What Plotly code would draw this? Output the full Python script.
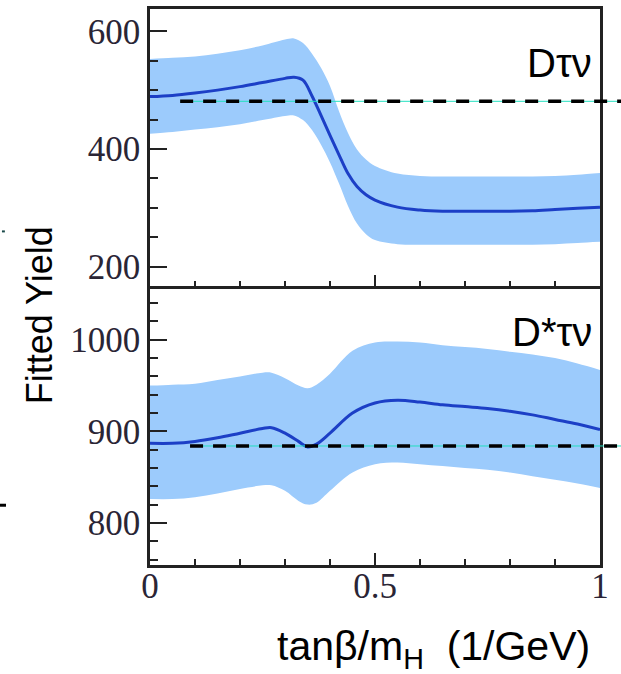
import plotly.graph_objects as go

# ---------------- data ----------------
# Upper panel: D tau nu
x_top = [0, 0.05, 0.1, 0.15, 0.2, 0.25, 0.3, 0.32, 0.34, 0.36, 0.38, 0.4, 0.42, 0.44,
         0.46, 0.48, 0.5, 0.55, 0.6, 0.65, 0.7, 0.75, 0.8, 0.85, 0.9, 0.95, 1.0]
top_center = [489, 491, 495, 500, 506, 513, 520, 522, 517, 490, 457, 423, 390, 358,
              336, 322, 313, 301, 296, 294, 294, 294, 294, 295, 297, 299, 301]
top_upper = [553, 555, 557, 562, 568, 576, 586, 588, 580, 562, 538, 507, 464, 427,
             399, 382, 371, 358, 354, 353, 353, 353, 353, 353, 354, 356, 359]
top_lower = [426, 429, 433, 437, 442, 449, 456, 457, 449, 432, 407, 377, 341, 303,
             273, 255, 245, 238, 237, 237, 237, 237, 237, 237, 238, 240, 242]
top_ref_value = 481
top_ref_start = 0.067

# Lower panel: D* tau nu
x_bot = [0, 0.05, 0.1, 0.15, 0.2, 0.25, 0.27, 0.3, 0.33, 0.35, 0.37, 0.4, 0.45, 0.5,
         0.55, 0.6, 0.65, 0.7, 0.75, 0.8, 0.85, 0.9, 0.95, 1.0]
bot_center = [887, 887, 889, 893, 898, 903, 904, 898, 889, 883, 886, 898, 920, 931,
              934, 932, 929, 927, 925, 922, 918, 913, 908, 902]
bot_upper = [950, 951, 952, 956, 960, 964, 964, 958, 950, 947, 951, 963, 988, 997,
             998, 997, 994, 992, 990, 987, 984, 980, 974, 967]
bot_lower = [826, 826, 828, 832, 837, 841, 841, 835, 824, 820, 822, 835, 855, 864,
             866, 864, 862, 860, 858, 855, 851, 847, 843, 838]
bot_ref_value = 884
bot_ref_start = 0.089

top_range = [166, 638]
bot_range = [754, 1056]
x_range = [0, 1]

top_label = "Dτν"
bot_label = "D*τν"
y_title = "Fitted Yield"
x_title = "tanβ/m<sub>H</sub>\u00a0\u00a0(1/GeV)"

# ---------------- style ----------------
BAND = "#9ccbfc"
LINE = "#1c3fc6"
FRAME = "#222222"
TICKFONT = dict(family="Liberation Serif, Times New Roman, serif", size=35, color="#2a2535")
LABFONT = dict(family="Liberation Sans, Arial, sans-serif", size=40, color="black")

fig = go.Figure()

def add_panel(xs, up, lo, ce, xa, ya):
    fig.add_trace(go.Scatter(x=xs, y=up, mode="lines", line=dict(width=0, shape="spline", color=BAND),
                             xaxis=xa, yaxis=ya, showlegend=False, hoverinfo="skip"))
    fig.add_trace(go.Scatter(x=xs, y=lo, mode="lines", line=dict(width=0, shape="spline", color=BAND),
                             fill="tonexty", fillcolor=BAND,
                             xaxis=xa, yaxis=ya, showlegend=False, hoverinfo="skip"))
    fig.add_trace(go.Scatter(x=xs, y=ce, mode="lines", line=dict(width=3, shape="spline", color=LINE),
                             xaxis=xa, yaxis=ya, showlegend=False))

add_panel(x_top, top_upper, top_lower, top_center, "x2", "y2")
add_panel(x_bot, bot_upper, bot_lower, bot_center, "x", "y")

# reference lines (drawn in axis-domain units so they may run past the frame)
def ref_line(xref, yref, start, value, rng):
    frac = (value - rng[0]) / (rng[1] - rng[0])
    fig.add_shape(type="line", xref=xref, yref=yref, x0=start, x1=1.047, y0=frac, y1=frac,
                  line=dict(color="#22e0c0", width=1), layer="above")
    fig.add_shape(type="line", xref=xref, yref=yref, x0=start, x1=1.047, y0=frac, y1=frac,
                  line=dict(color="black", width=3.5, dash="13px,10px"), layer="above")

ref_line("x2 domain", "y2 domain", top_ref_start, top_ref_value, top_range)
ref_line("x domain", "y domain", bot_ref_start, bot_ref_value, bot_range)

# small marks at the left edge (remnants of neighbouring figure)
fig.add_shape(type="line", xref="paper", yref="paper", x0=-0.3333, x1=-0.32, y0=0.1075, y1=0.1075,
              line=dict(color="black", width=3))
fig.add_shape(type="line", xref="paper", yref="paper", x0=-0.329, x1=-0.3225, y0=0.6, y1=0.6,
              line=dict(color="#1a4a4a", width=2))

axis_common = dict(showline=True, linecolor=FRAME, linewidth=2.5, mirror=True,
                   ticks="inside", tickcolor=FRAME, tickwidth=2, showgrid=False, zeroline=False,
                   tickfont=TICKFONT)

fig.update_layout(
    width=621, height=674,
    margin=dict(l=150, r=21, t=6, b=109),
    paper_bgcolor="white", plot_bgcolor="white",
    xaxis=dict(domain=[0, 1], anchor="y", range=x_range, dtick=0.5, tick0=0, ticklen=12,
               ticklabelstandoff=-12,
               minor=dict(dtick=0.1, ticklen=6, ticks="inside", tickcolor=FRAME, tickwidth=2),
               **axis_common),
    yaxis=dict(domain=[0, 0.4973], anchor="x", range=bot_range, dtick=100, tick0=0, ticklen=17,
               minor=dict(dtick=20, ticklen=8, ticks="inside", tickcolor=FRAME, tickwidth=2),
               **axis_common),
    xaxis2=dict(domain=[0, 1], anchor="y2", range=x_range, dtick=0.5, tick0=0, ticklen=12,
                showticklabels=False,
                minor=dict(dtick=0.1, ticklen=6, ticks="inside", tickcolor=FRAME, tickwidth=2),
                **axis_common),
    yaxis2=dict(domain=[0.5009, 1], anchor="x2", range=top_range, dtick=200, tick0=0, ticklen=17,
                minor=dict(dtick=50, ticklen=8, ticks="inside", tickcolor=FRAME, tickwidth=2),
                **axis_common),
    annotations=[
        dict(text=top_label, xref="paper", yref="paper", x=0.987, y=0.9034,
             xanchor="right", yanchor="middle", showarrow=False, font=LABFONT),
        dict(text=bot_label, xref="paper", yref="paper", x=0.987, y=0.4195,
             xanchor="right", yanchor="middle", showarrow=False, font=LABFONT),
        dict(text=y_title, xref="paper", yref="paper", x=-0.2456, y=0.45, textangle=-90,
             xanchor="center", yanchor="middle", showarrow=False,
             font=dict(family="Liberation Sans, Arial, sans-serif", size=36, color="black")),
        dict(text=x_title, xref="paper", yref="paper", x=0.63, y=-0.1503,
             xanchor="center", yanchor="middle", showarrow=False,
             font=dict(family="Liberation Sans, Arial, sans-serif", size=41, color="black")),
    ],
)

fig.write_html("out.html")
